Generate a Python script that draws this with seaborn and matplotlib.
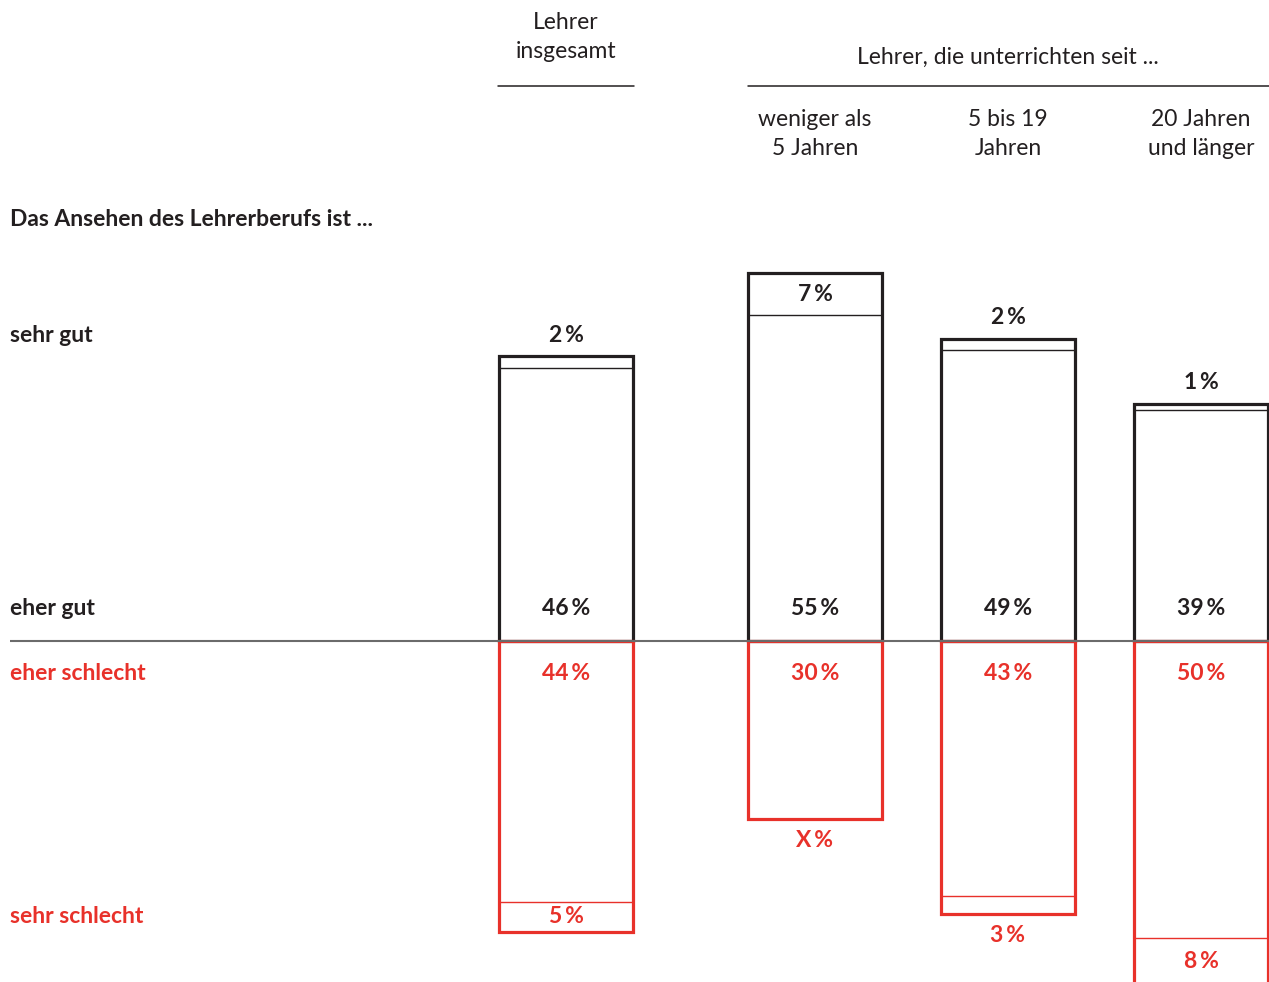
import numpy as np
import pandas as pd
import matplotlib
matplotlib.use("Agg")
import matplotlib.pyplot as plt
import seaborn as sns

groups = ["Lehrer insgesamt", "weniger als 5 Jahren", "5 bis 19 Jahren", "20 Jahren und länger"]
sehr_gut = [2, 7, 2, 1]
eher_gut = [46, 55, 49, 39]
eher_schlecht = [44, 30, 43, 50]
sehr_schlecht = [5, np.nan, 3, 8]   # "X %" = nicht ausgewiesen
sehr_schlecht_txt = ["5", "X", "3", "8"]

header_labels = ["Lehrer\ninsgesamt", "weniger als\n5 Jahren", "5 bis 19\nJahren", "20 Jahren\nund länger"]
row_labels = ["sehr gut", "eher gut", "eher schlecht", "sehr schlecht"]

# layout (pixels)
W, H = 1269, 982
xpos = [566, 815, 1008, 1201]
bar_w = 134
zero_px = 641
ppp = 5.93  # pixel per percent

BLACK = "#231f20"
RED = "#e8312a"
GREY = "#6b6b6b"

sns.set_theme(style="white")
plt.rcParams["font.family"] = ["Lato", "DejaVu Sans"]

df = pd.DataFrame({
    "x": xpos,
    "gut_total": np.array(sehr_gut) + np.array(eher_gut),
    "gut": eher_gut,
    "schlecht_total": -(np.array(eher_schlecht) + np.nan_to_num(sehr_schlecht)),
    "schlecht": [-v for v in eher_schlecht],
})

fig = plt.figure(figsize=(W / 100, H / 100), dpi=100)
ax = fig.add_axes([0, 0, 1, 1])

rel_w = bar_w / 193
for col, color, lw in [("gut_total", BLACK, 2.3), ("gut", BLACK, 1.0),
                       ("schlecht_total", RED, 2.3), ("schlecht", RED, 1.0)]:
    sns.barplot(data=df, x="x", y=col, native_scale=True, orient="x", fill=False,
                color=color, linewidth=lw, width=rel_w, errorbar=None, ax=ax)

ax.set_xlim(0, W)
ax.set_ylim(-(H - zero_px) / ppp, zero_px / ppp)
ax.set_axis_off()

# zero line
ax.plot([10, W], [0, 0], color=GREY, lw=1.5, zorder=10, solid_capstyle="butt")

pct = "\u2009%"
fs = 16.5
off = 3.6
inner = 5.4
for i, x in enumerate(xpos):
    top = sehr_gut[i] + eher_gut[i]
    y_sg = top - sehr_gut[i] / 2 if sehr_gut[i] >= 5 else top + off
    ax.text(x, y_sg, f"{sehr_gut[i]}{pct}", ha="center", va="center", fontsize=fs,
            fontweight="bold", color=BLACK)
    ax.text(x, inner, f"{eher_gut[i]}{pct}", ha="center", va="center", fontsize=fs,
            fontweight="bold", color=BLACK)
    ax.text(x, -inner, f"{eher_schlecht[i]}{pct}", ha="center", va="center", fontsize=fs,
            fontweight="bold", color=RED)
    ss = 0 if np.isnan(sehr_schlecht[i]) else sehr_schlecht[i]
    bot = -(eher_schlecht[i] + ss)
    y_ss = bot + ss / 2 if ss >= 5 else bot - off
    ax.text(x, y_ss, f"{sehr_schlecht_txt[i]}{pct}", ha="center", va="center", fontsize=fs,
            fontweight="bold", color=RED)
    if i == 0:
        row_y = [y_sg, inner, -inner, y_ss]

for lab, y, c in zip(row_labels, row_y, [BLACK, BLACK, RED, RED]):
    ax.text(10, y, lab, ha="left", va="center", fontsize=fs, fontweight="bold", color=c)

def px(x, y):
    return x / W, 1 - y / H

fig.text(*px(10, 219), "Das Ansehen des Lehrerberufs ist ...", ha="left", va="center",
         fontsize=fs, fontweight="bold", color=BLACK)

fig.text(*px(xpos[0], 37), header_labels[0], ha="center", va="center", fontsize=fs,
         color=BLACK, linespacing=1.45)
fig.text(*px(1008, 57), "Lehrer, die unterrichten seit ...", ha="center", va="center",
         fontsize=fs, color=BLACK)
for x, lab in zip(xpos[1:], header_labels[1:]):
    fig.text(*px(x, 134), lab, ha="center", va="center", fontsize=fs, color=BLACK,
             linespacing=1.45)

hy = (H - 86) / ppp - (H - zero_px) / ppp
ax.plot([498, 634], [hy, hy], color=BLACK, lw=1.1)
ax.plot([748, W], [hy, hy], color=BLACK, lw=1.1)

fig.savefig("out.png", dpi=100)
